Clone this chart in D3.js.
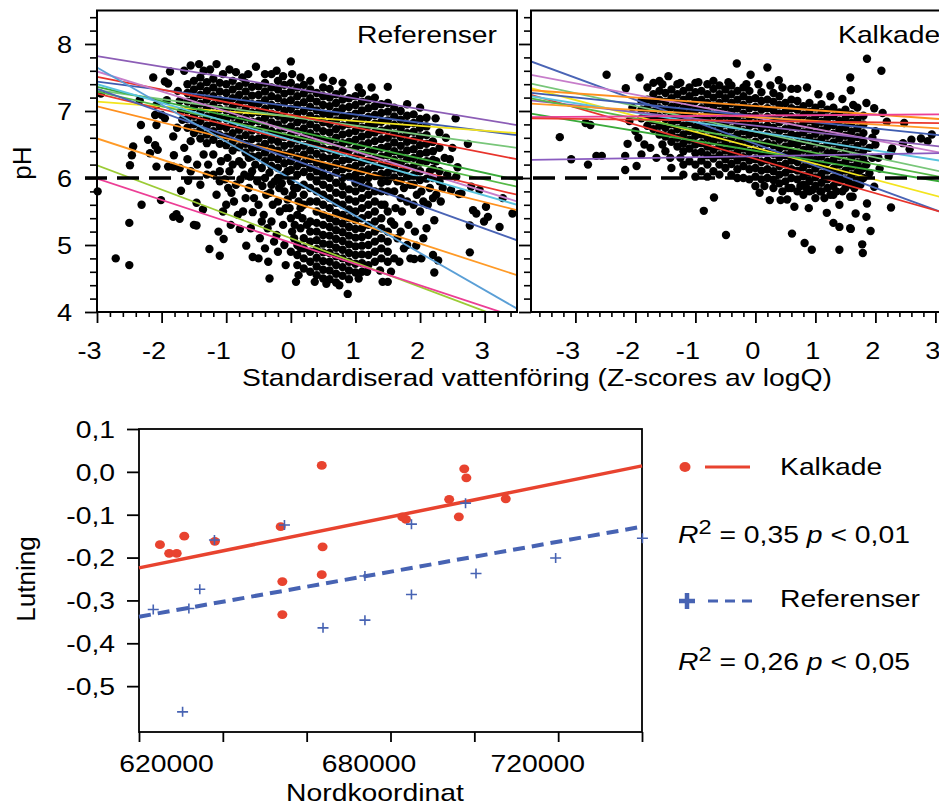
<!DOCTYPE html>
<html>
<head>
<meta charset="utf-8">
<script src="https://cdn.jsdelivr.net/npm/d3@7"></script>
<style>
  body { margin: 0; background: #fff; }
  svg { display: block; }
  text { font-family: "Liberation Sans", Arial, sans-serif; fill: #000; }
</style>
</head>
<body>
<div id="chart"></div>
<script>
// pH mot standardiserad vattenföring (två paneler) + lutning mot nordkoordinat

/* ---------- data: Referenser (övre vänstra panelen) ---------- */
// täta kolumner: [z-score, [pH ...]]
const refDense = [
  [-1.6, [7.4, 7.27, 7.14, 7.01, 6.88, 6.75]],
  [-1.5, [7.45, 7.32, 7.19, 7.06, 6.93, 6.8, 6.67]],
  [-1.4, [7.5, 7.37, 7.24, 7.11, 6.98, 6.85, 6.72, 6.59]],
  [-1.3, [7.43, 7.3, 7.17, 7.04, 6.91, 6.78, 6.65, 6.52]],
  [-1.2, [7.48, 7.35, 7.22, 7.09, 6.96, 6.83, 6.7, 6.57]],
  [-1.1, [7.42, 7.29, 7.16, 7.03, 6.9, 6.77, 6.64, 6.51]],
  [-1.0, [7.4, 7.27, 7.14, 7.01, 6.88, 6.75, 6.62, 6.49]],
  [-0.9, [7.45, 7.32, 7.19, 7.06, 6.93, 6.8, 6.67, 6.54, 6.41]],
  [-0.8, [7.37, 7.24, 7.11, 6.98, 6.85, 6.72, 6.59, 6.46]],
  [-0.7, [7.42, 7.29, 7.16, 7.03, 6.9, 6.77, 6.64, 6.51, 6.38]],
  [-0.6, [7.36, 7.23, 7.1, 6.97, 6.84, 6.71, 6.58, 6.45, 6.32]],
  [-0.5, [7.37, 7.24, 7.11, 6.98, 6.85, 6.72, 6.59, 6.46, 6.33]],
  [-0.4, [7.42, 7.29, 7.16, 7.03, 6.9, 6.77, 6.64, 6.51, 6.38, 6.25]],
  [-0.3, [7.35, 7.22, 7.09, 6.96, 6.83, 6.7, 6.57, 6.44, 6.31, 6.18]],
  [-0.2, [7.45, 7.32, 7.19, 7.06, 6.93, 6.8, 6.67, 6.54, 6.41, 6.28, 6.15]],
  [-0.1, [7.39, 7.26, 7.13, 7.0, 6.87, 6.74, 6.61, 6.48, 6.35, 6.22]],
  [0.0, [7.42, 7.29, 7.16, 7.03, 6.9, 6.77, 6.64, 6.51, 6.38, 6.25, 6.12]],
  [0.1, [7.35, 7.22, 7.09, 6.96, 6.83, 6.7, 6.57, 6.44, 6.31, 6.18, 6.05, 5.0, 4.85]],
  [0.2, [7.39, 7.26, 7.13, 7.0, 6.87, 6.74, 6.61, 6.48, 6.35, 6.22, 6.09, 5.9, 5.75, 5.6, 5.1, 4.95, 4.8, 4.65]],
  [0.3, [7.32, 7.19, 7.06, 6.93, 6.8, 6.67, 6.54, 6.41, 6.28, 6.15, 6.02, 5.85, 5.65, 5.35, 5.2, 5.05, 4.9, 4.75, 4.6]],
  [0.4, [7.27, 7.14, 7.01, 6.88, 6.75, 6.62, 6.49, 6.36, 6.23, 6.1, 5.95, 5.8, 5.65, 5.5, 5.33, 5.2, 5.07, 4.94, 4.81, 4.68, 4.55]],
  [0.5, [7.35, 7.22, 7.09, 6.96, 6.83, 6.7, 6.57, 6.44, 6.31, 6.18, 6.05, 5.9, 5.75, 5.6, 5.45, 5.3, 5.15, 5.02, 4.89, 4.76, 4.63, 4.5]],
  [0.6, [7.33, 7.2, 7.07, 6.94, 6.81, 6.68, 6.55, 6.42, 6.29, 6.16, 6.0, 5.85, 5.7, 5.55, 5.4, 5.27, 5.14, 5.01, 4.88, 4.75, 4.62, 4.49]],
  [0.7, [7.25, 7.12, 6.99, 6.86, 6.73, 6.6, 6.47, 6.34, 6.21, 6.08, 5.93, 5.78, 5.63, 5.48, 5.35, 5.22, 5.09, 4.96, 4.83, 4.7, 4.57, 4.44]],
  [0.8, [7.3, 7.17, 7.04, 6.91, 6.78, 6.65, 6.52, 6.39, 6.26, 6.13, 6.0, 5.88, 5.75, 5.6, 5.45, 5.32, 5.19, 5.06, 4.93, 4.8, 4.67, 4.54]],
  [0.9, [7.19, 7.06, 6.93, 6.8, 6.67, 6.54, 6.41, 6.28, 6.15, 6.02, 5.83, 5.68, 5.53, 5.4, 5.27, 5.14, 5.01, 4.88, 4.75, 4.62, 4.49]],
  [1.0, [7.22, 7.09, 6.96, 6.83, 6.7, 6.57, 6.44, 6.31, 6.18, 6.05, 5.93, 5.8, 5.65, 5.5, 5.37, 5.24, 5.11, 4.98, 4.85, 4.72, 4.59]],
  [1.1, [7.27, 7.14, 7.01, 6.88, 6.75, 6.62, 6.49, 6.36, 6.23, 6.1, 5.97, 5.85, 5.7, 5.55, 5.4, 5.25, 5.12, 4.99, 4.86, 4.73, 4.6]],
  [1.2, [7.17, 7.04, 6.91, 6.78, 6.65, 6.52, 6.39, 6.26, 6.13, 6.0, 5.88, 5.75, 5.6, 5.45, 5.3, 5.15, 5.0, 4.85, 4.7]],
  [1.3, [7.2, 7.07, 6.94, 6.81, 6.68, 6.55, 6.42, 6.29, 6.16, 6.03, 5.8, 5.65, 5.5, 5.35, 5.2, 5.05, 4.9, 4.75]],
  [1.4, [7.1, 6.97, 6.84, 6.71, 6.58, 6.45, 6.32, 6.19, 6.06, 5.93, 5.8, 5.6, 5.4, 5.25, 5.1, 4.95, 4.8]],
  [1.5, [7.12, 6.99, 6.86, 6.73, 6.6, 6.47, 6.34, 6.21, 6.08, 5.95, 5.8, 5.5, 5.2, 5.05, 4.9, 4.75]],
  [1.6, [7.05, 6.92, 6.79, 6.66, 6.53, 6.4, 6.27, 6.14, 6.01]],
  [1.7, [7.0, 6.87, 6.74, 6.61, 6.48, 6.35, 6.22, 6.09, 5.96]],
  [1.8, [6.93, 6.8, 6.67, 6.54, 6.41, 6.28, 6.15, 6.02]],
  [1.9, [6.95, 6.82, 6.69, 6.56, 6.43, 6.3, 6.17, 6.04]],
  [2.0, [6.88, 6.75, 6.62, 6.49, 6.36, 6.23, 6.1]],
  [2.1, [6.9, 6.77, 6.64, 6.51, 6.38, 6.25]],
  [2.2, [6.54, 6.4, 6.27, 6.14]]
];
// glesa punkter: [z-score, pH]
const refSparse = [
  [-2.99, 5.8], [-2.94, 7.26], [-2.71, 4.8], [-2.5, 4.7], [-2.5, 5.33], [-2.31, 5.6], [-2.01, 5.67], [-1.82, 5.42],
  [-2.13, 7.5], [-1.95, 7.44], [-1.87, 7.59], [-1.9, 7.41], [-2.34, 7.16], [-2.08, 7.09], [-1.92, 7.16], [-2.1, 6.94],
  [-2.0, 6.94], [-1.95, 6.89], [-2.32, 6.79], [-2.08, 6.79], [-1.82, 6.62], [-2.21, 6.57], [-2.1, 6.49], [-2.44, 6.47],
  [-2.46, 6.34], [-2.49, 6.19], [-2.18, 6.37], [-2.06, 6.42], [-1.81, 6.34], [-1.9, 6.17], [-2.08, 6.17], [-1.82, 6.17],
  [-1.75, 7.3], [-1.72, 7.15], [-1.7, 7.0], [-1.68, 6.87], [-1.76, 6.75], [-1.65, 7.6], [-1.55, 7.68], [-1.42, 7.7],
  [-1.72, 6.15], [-1.7, 5.81], [-1.77, 5.46], [-1.72, 5.39], [-1.65, 6.45], [-1.6, 6.28], [-1.59, 5.96], [-1.55, 6.1],
  [-1.46, 5.63], [-1.5, 5.3], [-1.46, 5.29], [-1.36, 5.53], [-1.26, 4.94], [-1.35, 6.35], [-1.28, 6.2], [-1.4, 5.9],
  [-1.25, 7.62], [-1.15, 7.7], [-1.2, 6.05], [-1.15, 5.75], [-1.08, 6.25], [-1.1, 5.95], [-1.05, 5.5], [-1.12, 5.2],
  [-1.1, 4.84], [-1.04, 5.09], [-0.98, 6.3], [-0.95, 6.1], [-0.97, 5.85], [-1.0, 5.6], [-0.93, 5.3], [-0.9, 6.2],
  [-0.85, 5.9], [-0.88, 5.65], [-0.79, 5.24], [-0.82, 5.45], [-0.75, 6.2], [-0.72, 6.05], [-0.7, 5.7], [-0.74, 5.5],
  [-0.69, 4.99], [-0.65, 5.85], [-0.6, 6.1], [-0.59, 5.49], [-0.62, 5.25], [-0.59, 4.82], [-0.54, 7.66], [-0.55, 6.2],
  [-0.52, 5.95], [-0.5, 5.6], [-0.48, 5.1], [-0.5, 4.8], [-0.45, 5.35], [-0.66, 7.55], [-0.85, 7.58],
  [-0.4, 7.55], [-0.4, 6.0], [-0.38, 5.75], [-0.42, 5.45], [-0.36, 5.25], [-0.4, 4.95], [-0.33, 4.5], [-0.35, 4.75],
  [-0.3, 5.9], [-0.28, 5.6], [-0.3, 5.35], [-0.26, 5.05], [-0.22, 7.6], [-0.2, 6.0], [-0.18, 5.85], [-0.2, 5.65],
  [-0.17, 5.5], [-0.22, 5.15], [-0.2, 4.9], [-0.12, 7.52], [-0.1, 6.05], [-0.1, 5.8], [-0.08, 5.55], [-0.12, 5.3],
  [-0.1, 5.0], [-0.08, 4.7], [0.0, 7.74], [0.02, 7.55], [0.0, 5.95], [0.03, 5.75], [-0.02, 5.55], [0.0, 5.4],
  [0.02, 5.2], [0.0, 4.9], [0.08, 4.45],
  [-1.55, 6.55], [-1.45, 6.2], [-1.3, 6.05], [-1.2, 6.35], [-1.1, 6.1], [-1.02, 5.98], [-0.92, 5.78], [-0.8, 6.25],
  [-0.78, 5.98], [-0.65, 6.3], [-0.63, 6.02], [-0.57, 5.7], [-0.45, 6.15], [-0.44, 5.88], [-0.33, 6.08], [-0.32, 5.78],
  [-0.25, 5.95], [-0.14, 5.92], [-0.05, 6.1], [-0.05, 5.68], [0.05, 5.85], [0.06, 5.3], [0.05, 5.1], [0.15, 5.55],
  [0.18, 5.4], [0.15, 4.95], [-1.35, 7.6], [-1.05, 7.55], [-0.95, 7.62], [-0.75, 7.5], [-0.3, 7.55], [0.15, 7.5],
  [0.3, 7.45], [0.65, 7.45], [0.8, 7.42], [1.05, 7.35], [1.25, 7.35],
  [0.1, 5.85], [0.12, 5.65], [0.1, 5.45], [0.15, 5.25], [0.1, 4.7], [0.12, 4.55], [0.25, 5.3], [0.37, 4.45],
  [0.5, 7.5], [0.88, 4.27], [0.75, 4.4], [0.55, 4.42], [1.05, 4.5], [1.18, 4.6], [1.42, 4.45], [1.38, 4.62],
  [1.5, 7.36], [1.55, 4.6], [1.5, 4.45], [1.45, 5.6], [1.55, 5.35],
  [1.6, 5.8], [1.62, 5.55], [1.6, 5.3], [1.65, 5.1], [1.6, 4.8], [1.7, 5.7], [1.72, 5.5], [1.7, 5.2],
  [1.75, 4.95], [1.68, 4.75], [1.8, 7.1], [1.8, 5.65], [1.82, 5.3], [1.8, 5.0], [1.85, 4.8], [1.9, 5.9],
  [1.9, 5.6], [1.92, 5.2], [1.94, 4.99], [1.91, 4.79], [2.0, 7.05], [2.0, 5.97], [2.02, 5.8], [2.0, 5.5],
  [2.05, 5.1], [2.02, 4.8], [2.1, 5.99], [2.12, 5.6], [2.1, 5.25], [2.19, 6.54], [2.24, 6.89], [2.2, 6.0],
  [2.2, 5.7], [2.22, 5.37], [2.22, 4.59], [2.2, 4.85], [2.28, 4.77], [2.3, 6.68], [2.3, 6.1], [2.3, 5.95],
  [1.65, 5.95], [1.75, 5.85], [1.85, 5.9], [1.95, 5.75], [2.05, 5.65], [2.15, 5.85], [2.25, 5.75], [2.35, 5.85],
  [2.38, 6.3], [2.3, 6.45], [2.15, 6.1], [2.25, 6.25],
  [2.32, 5.65], [2.46, 6.28], [2.4, 6.6], [2.42, 6.05], [2.48, 5.82], [2.55, 6.89], [2.58, 6.16], [2.56, 6.02],
  [2.5, 6.45], [2.64, 5.77], [2.74, 6.51], [2.79, 5.87], [2.92, 5.82], [2.82, 5.52], [2.87, 5.47], [3.02, 5.57],
  [3.05, 5.42], [2.99, 5.35], [3.28, 5.7], [3.23, 5.27], [3.43, 5.47], [2.77, 5.29], [2.77, 4.89], [2.6, 5.76]
];
// regressionslinjer, pH vid z = -3 och z = 3,5
const refLineStart = [7.82, 7.44, 7.14, 7.31, 7.51, 7.36, 7.29, 7.26, 7.59, 7.40, 7.07, 7.33, 6.59, 7.65, 6.19, 5.99];
const refLineEnd   = [6.79, 6.64, 6.67, 6.45, 6.28, 5.97, 5.87, 5.75, 5.65, 5.60, 5.52, 5.07, 4.55, 4.05, 3.83, 3.92];
const refLineZ = [-3, 3.5];

/* ---------- data: Kalkade (övre högra panelen) ---------- */
const kalkDense = [
  [-1.9, [7.15, 7.02, 6.89]],
  [-1.8, [7.17, 7.04, 6.91, 6.78]],
  [-1.7, [7.25, 7.12, 6.99, 6.86, 6.73]],
  [-1.6, [7.3, 7.17, 7.04, 6.91, 6.78, 6.65]],
  [-1.5, [7.27, 7.14, 7.01, 6.88, 6.75, 6.62]],
  [-1.4, [7.32, 7.19, 7.06, 6.93, 6.8, 6.67, 6.54]],
  [-1.3, [7.25, 7.12, 6.99, 6.86, 6.73, 6.6, 6.47]],
  [-1.2, [7.3, 7.17, 7.04, 6.91, 6.78, 6.65, 6.52, 6.4]],
  [-1.1, [7.35, 7.22, 7.09, 6.96, 6.83, 6.7, 6.57, 6.44]],
  [-1.0, [7.28, 7.15, 7.02, 6.89, 6.76, 6.63, 6.5, 6.37]],
  [-0.9, [7.3, 7.17, 7.04, 6.91, 6.78, 6.65, 6.52, 6.39, 6.26]],
  [-0.8, [7.25, 7.12, 6.99, 6.86, 6.73, 6.6, 6.47, 6.34]],
  [-0.7, [7.33, 7.2, 7.07, 6.94, 6.81, 6.68, 6.55, 6.42, 6.29]],
  [-0.6, [7.25, 7.12, 6.99, 6.86, 6.73, 6.6, 6.47, 6.34, 6.2]],
  [-0.5, [7.32, 7.19, 7.06, 6.93, 6.8, 6.67, 6.54, 6.41, 6.28]],
  [-0.4, [7.25, 7.12, 6.99, 6.86, 6.73, 6.6, 6.47, 6.34, 6.21]],
  [-0.3, [7.3, 7.17, 7.04, 6.91, 6.78, 6.65, 6.52, 6.39, 6.26, 6.13]],
  [-0.2, [7.22, 7.09, 6.96, 6.83, 6.7, 6.57, 6.44, 6.31, 6.18]],
  [-0.1, [7.3, 7.17, 7.04, 6.91, 6.78, 6.65, 6.52, 6.39, 6.26, 6.13]],
  [0.0, [7.19, 7.06, 6.93, 6.8, 6.67, 6.54, 6.41, 6.28, 6.15]],
  [0.1, [7.28, 7.15, 7.02, 6.89, 6.76, 6.63, 6.5, 6.37, 6.24, 6.11]],
  [0.2, [7.17, 7.04, 6.91, 6.78, 6.65, 6.52, 6.39, 6.26, 6.13]],
  [0.3, [7.27, 7.14, 7.01, 6.88, 6.75, 6.62, 6.49, 6.36, 6.23, 6.1]],
  [0.4, [7.22, 7.09, 6.96, 6.83, 6.7, 6.57, 6.44, 6.31, 6.18, 6.05]],
  [0.5, [7.12, 6.99, 6.86, 6.73, 6.6, 6.47, 6.34, 6.21, 6.08]],
  [0.6, [7.17, 7.04, 6.91, 6.78, 6.65, 6.52, 6.39, 6.26, 6.13, 6.0]],
  [0.7, [7.15, 7.02, 6.89, 6.76, 6.63, 6.5, 6.37, 6.24, 6.11, 5.98]],
  [0.8, [7.07, 6.94, 6.81, 6.68, 6.55, 6.42, 6.29, 6.16, 6.03]],
  [0.9, [7.12, 6.99, 6.86, 6.73, 6.6, 6.47, 6.34, 6.21, 6.08, 5.95]],
  [1.0, [7.05, 6.92, 6.79, 6.66, 6.53, 6.4, 6.27, 6.14, 6.01]],
  [1.1, [7.1, 6.97, 6.84, 6.71, 6.58, 6.45, 6.32, 6.19, 6.06, 5.93]],
  [1.2, [7.02, 6.89, 6.76, 6.63, 6.5, 6.37, 6.24, 6.11, 5.98]],
  [1.3, [7.05, 6.92, 6.79, 6.66, 6.53, 6.4, 6.27, 6.14, 6.01, 5.88]],
  [1.4, [6.98, 6.85, 6.72, 6.59, 6.46, 6.33, 6.2, 6.07, 5.94]],
  [1.5, [7.02, 6.89, 6.76, 6.63, 6.5, 6.37, 6.24, 6.11, 5.98]],
  [1.6, [6.95, 6.82, 6.69, 6.56, 6.43, 6.3, 6.17, 6.04]],
  [1.7, [6.87, 6.74, 6.61, 6.48, 6.35, 6.22, 6.09]],
  [1.8, [6.93, 6.8, 6.67, 6.54, 6.41, 6.28]]
];
const kalkSparse = [
  [-3.26, 6.61], [-3.07, 6.28], [-2.83, 6.82], [-2.75, 6.79], [-2.79, 6.2], [-2.65, 6.33], [-2.56, 6.33], [-2.48, 7.54],
  [-2.16, 7.34], [-2.17, 6.33], [-2.17, 6.12], [-2.13, 6.51], [-1.98, 6.18], [-1.93, 7.5], [-2.05, 7.05], [-2.1, 6.85],
  [-2.0, 6.7], [-1.95, 6.6], [-1.9, 6.35], [-1.85, 6.5], [-1.8, 7.35], [-1.7, 7.42], [-1.75, 6.45], [-1.65, 6.3],
  [-1.6, 7.45], [-1.55, 6.5], [-1.5, 6.4], [-1.45, 7.52], [-1.42, 6.3], [-1.4, 6.15], [-1.3, 7.4], [-1.25, 6.3],
  [-1.2, 6.2], [-1.2, 6.05], [-1.1, 6.25], [-1.0, 7.42], [-1.0, 6.2], [-1.0, 6.02], [-0.9, 6.1], [-0.86, 5.51],
  [-0.8, 7.4], [-0.8, 6.2], [-0.8, 6.02], [-0.7, 6.1], [-0.69, 5.71], [-0.6, 7.38], [-0.6, 6.05], [-0.5, 6.15],
  [-0.49, 5.15], [-0.4, 7.38], [-0.4, 6.05], [-0.31, 7.71], [-0.2, 7.35], [-0.2, 6.0], [-0.08, 7.54], [0.0, 6.02],
  [0.0, 5.88], [0.07, 5.78], [0.1, 5.98], [0.2, 7.65], [0.2, 6.0], [0.24, 5.67], [0.3, 5.97], [0.3, 5.85],
  [0.39, 7.46], [0.4, 5.92], [0.42, 5.67], [0.53, 5.68], [0.5, 5.95], [0.6, 5.85], [0.61, 5.17], [0.65, 5.57],
  [0.7, 7.33], [0.7, 5.8], [0.8, 5.9], [0.82, 5.03], [0.8, 5.75], [0.86, 7.35], [0.89, 5.55], [0.9, 5.8],
  [0.94, 4.93], [1.0, 5.88], [1.0, 5.7], [1.08, 5.8], [1.1, 5.8], [1.19, 5.48], [1.2, 5.85], [1.3, 5.33],
  [1.3, 5.75], [1.4, 5.27], [1.4, 4.93], [1.4, 5.6], [1.5, 5.85], [1.58, 5.25], [1.58, 7.5], [1.59, 7.31],
  [1.58, 5.72], [1.6, 5.9], [1.62, 5.72], [1.63, 7.09], [1.67, 5.47], [1.7, 5.96], [1.78, 5.01], [1.79, 4.88],
  [1.8, 6.15], [1.8, 6.0], [1.85, 7.12], [1.85, 5.42], [1.86, 7.78], [1.86, 5.62], [1.9, 6.07], [1.92, 5.21],
  [1.98, 7.04], [1.98, 5.87], [2.0, 6.7], [2.0, 6.5], [2.05, 6.3], [2.07, 6.14], [2.1, 7.6], [2.12, 6.97],
  [2.19, 6.84], [2.22, 6.32], [2.26, 6.39], [2.26, 5.56], [2.28, 6.44], [2.46, 6.52], [2.48, 6.82], [2.57, 6.43],
  [2.6, 6.57], [2.76, 6.59], [2.87, 6.55], [2.94, 6.65], [1.59, 5.24],
  [-1.55, 7.4], [-1.25, 7.42], [-0.95, 7.43], [-0.7, 7.45], [-0.45, 7.43], [-0.15, 7.4], [0.05, 7.4], [0.25, 7.38],
  [0.45, 7.35], [0.6, 7.33], [1.05, 7.25], [1.25, 7.22], [1.45, 7.18], [1.7, 7.05],
  [-0.3, 6.0], [-0.1, 5.98], [0.15, 5.88], [0.45, 5.8], [0.55, 5.85], [0.75, 5.88], [0.85, 5.85], [0.95, 5.82],
  [1.15, 5.7], [1.25, 5.75], [1.35, 5.8], [1.45, 5.8], [1.55, 5.95], [1.65, 5.85], [1.75, 5.9], [1.85, 6.2],
  [1.95, 6.3], [1.75, 6.12], [1.9, 6.45], [1.95, 6.6]
];
// regressionslinjer, pH vid panelens vänsterkant (z = -3,74) och vid bildkanten (z = 3,07)
const kalkLineStart = [7.74, 7.54, 7.41, 7.34, 7.31, 7.27, 7.24, 7.22, 7.16, 7.19, 7.11, 6.96, 6.91, 6.89, 6.27];
const kalkLineEnd   = [5.50, 6.38, 6.10, 5.72, 6.88, 6.64, 5.50, 6.26, 6.47, 6.02, 6.74, 5.95, 6.95, 6.82, 6.37];
const kalkLineZ = [-3.74, 3.07];

const zTicks  = d3.range(-3, 4);
const phTicks = [4, 5, 6, 7, 8];
const phLimit = 6;

/* ---------- data: lutning mot nordkoordinat ---------- */
const kalkNord  = [625000, 627200, 629000, 630800, 638100, 653800, 663600, 663800, 663600, 654200, 654200, 682800, 683700, 694000, 696300, 697600, 698100, 707500];
const kalkSlope = [-0.170, -0.190, -0.190, -0.150, -0.162, -0.128, 0.015, -0.175, -0.240, -0.256, -0.333, -0.105, -0.111, -0.064, -0.105, 0.007, -0.014, -0.063];
const refNord   = [623400, 630400, 631900, 634500, 638000, 654700, 663900, 673900, 673900, 685000, 685000, 697900, 700400, 719400, 740100];
const refSlope  = [-0.321, -0.560, -0.319, -0.274, -0.159, -0.124, -0.364, -0.243, -0.346, -0.122, -0.286, -0.073, -0.237, -0.201, -0.155];
const kalkFit = [[620000, -0.224], [740000, 0.014]];
const refFit  = [[620000, -0.338], [740000, -0.128]];
const nordTicks  = d3.range(620000, 740001, 20000);
const nordLabels = [620000, 680000, 720000];
const slopeTicks = [0.1, 0, -0.1, -0.2, -0.3, -0.4, -0.5];

/* ---------- styles ---------- */
const refColors  = ["#8c5db6", "#3f5cb0", "#f3e41e", "#78c679", "#e8332b", "#3aaa3a", "#55b947", "#ea3a2f",
                    "#c77dca", "#5ac4de", "#ff901e", "#4a64b5", "#ff9a26", "#5a9fd6", "#9bcb35", "#ec3e95"];
const kalkColors = ["#4a64b5", "#c77dca", "#78c679", "#f3e41e", "#ff901e", "#3f5cb0", "#e8332b", "#5ac4de",
                    "#8c5db6", "#55b947", "#ff9a26", "#3aaa3a", "#ec3e95", "#ea3a2f", "#8a5cc0"];
const RED = "#e8432f", BLUE = "#4763b3";
const SX = 1.18;          // originalet är horisontellt utdraget
const FONT_TICK = 23, FONT_TITLE = 24;
const DOT_R = 4.2;

/* ---------- helpers ---------- */
const hy = v => (v < 0 ? "-" : "") + Math.abs(v);
const comma1 = v => (v < -1e-9 ? "-" : "") + Math.abs(v).toFixed(1).replace(".", ",");
const expand = cols => cols.flatMap(([z, ys]) => ys.map(p => [z, p]));

function stext(g, x, y, str, size, anchor){
  return g.append("text")
    .attr("transform", `translate(${x},${y}) scale(${SX},1)`)
    .attr("text-anchor", anchor || "start")
    .attr("font-size", size)
    .text(str);
}

const W = 939, H = 805;
const svg = d3.select("#chart").append("svg").attr("width", W).attr("height", H);

/* ---------- top panels ---------- */
const yPH = d3.scaleLinear().domain([4, 8.5]).range([312, 10.5]);
const xL  = d3.scaleLinear().domain([-3, 3.5]).range([97, 517]);
const xR  = d3.scaleLinear().domain([-3.74, 3.5]).range([531, 531 + 7.24 * 60]);

function panel(x, dense, sparse, starts, ends, lineZ, colors, id, withLabels){
  const g = svg.append("g");
  const [x0, x1] = x.range();
  const [yb, yt] = yPH.range();

  g.append("clipPath").attr("id", id).append("rect")
    .attr("x", x0).attr("y", yt).attr("width", x1 - x0).attr("height", yb - yt);

  // punkter
  const pts = expand(dense).concat(sparse);
  g.append("g").selectAll("circle").data(pts).join("circle")
    .attr("cx", d => x(d[0])).attr("cy", d => yPH(d[1]))
    .attr("r", DOT_R).attr("fill", "#000");

  // linjer
  g.append("g").attr("clip-path", `url(#${id})`)
    .selectAll("line").data(starts.map((s, i) => ({ s, e: ends[i], c: colors[i] }))).join("line")
    .attr("x1", x(lineZ[0])).attr("x2", x(lineZ[1]))
    .attr("y1", d => yPH(d.s)).attr("y2", d => yPH(d.e))
    .attr("stroke", d => d.c).attr("stroke-width", 1.8);

  // ram
  g.append("rect").attr("x", x0).attr("y", yt).attr("width", x1 - x0).attr("height", yb - yt)
    .attr("fill", "none").attr("stroke", "#000").attr("stroke-width", 2);

  // y-axel
  const minorPH = d3.range(4, 8.41, 0.2).filter(v => Math.abs(v - Math.round(v)) > 1e-6);
  g.append("g").attr("transform", `translate(${x0},0)`)
    .call(d3.axisLeft(yPH).tickValues(minorPH).tickSize(7).tickFormat(""))
    .call(a => a.select(".domain").remove())
    .selectAll("line").attr("stroke-width", 1.6);
  const ya = g.append("g").attr("transform", `translate(${x0},0)`)
    .call(d3.axisLeft(yPH).tickValues(phTicks).tickSize(12).tickFormat(withLabels ? d => d : ""))
    .call(a => a.select(".domain").remove());
  ya.selectAll("line").attr("stroke-width", 1.8);
  ya.selectAll("text").attr("x", null).attr("dy", "0.35em")
    .attr("font-size", FONT_TICK).attr("font-family", null)
    .attr("transform", `translate(-25,0) scale(${SX},1)`);

  // x-axel
  const [d0, d1] = x.domain();
  const minorZ = d3.range(Math.ceil(d0 * 5) / 5, d1 + 1e-6, 0.2)
    .filter(v => Math.abs(v - Math.round(v)) > 1e-6);
  g.append("g").attr("transform", `translate(0,${yb})`)
    .call(d3.axisBottom(x).tickValues(minorZ).tickSize(5).tickFormat(""))
    .call(a => a.select(".domain").remove())
    .selectAll("line").attr("stroke-width", 1.6);
  const xa = g.append("g").attr("transform", `translate(0,${yb})`)
    .call(d3.axisBottom(x).tickValues(zTicks).tickSize(11).tickFormat(hy))
    .call(a => a.select(".domain").remove());
  xa.selectAll("line").attr("stroke-width", 1.8);
  xa.selectAll("text").attr("y", null).attr("dy", null)
    .attr("font-size", FONT_TICK).attr("font-family", null)
    .attr("transform", d => `translate(${d < 0 ? -8 : -3},47) scale(${SX},1)`);
  return g;
}

panel(xL, refDense, refSparse, refLineStart, refLineEnd, refLineZ, refColors, "clipL", true);
panel(xR, kalkDense, kalkSparse, kalkLineStart, kalkLineEnd, kalkLineZ, kalkColors, "clipR", false);

// pH 6-gräns
svg.append("line")
  .attr("x1", 85).attr("x2", W)
  .attr("y1", yPH(phLimit)).attr("y2", yPH(phLimit))
  .attr("stroke", "#000").attr("stroke-width", 3.5).attr("stroke-dasharray", "22,10");

stext(svg, 497, 43, "Referenser", FONT_TITLE, "end");
stext(svg, 838, 43, "Kalkade", FONT_TITLE, "start");
svg.append("text").attr("transform", "translate(31,163) rotate(-90)")
  .attr("text-anchor", "middle").attr("font-size", 26).text("pH");
stext(svg, 537, 386, "Standardiserad vattenföring (Z-scores av logQ)", FONT_TITLE, "middle");

/* ---------- bottom panel ---------- */
const xN = d3.scaleLinear().domain([620000, 740000]).range([139, 642]);
const yS = d3.scaleLinear().domain([-0.607, 0.1]).range([732, 429]);
const gb = svg.append("g");

gb.append("rect").attr("x", 139).attr("y", 429).attr("width", 503).attr("height", 303)
  .attr("fill", "none").attr("stroke", "#000").attr("stroke-width", 1.8);

const yb = gb.append("g").attr("transform", "translate(139,0)")
  .call(d3.axisLeft(yS).tickValues(slopeTicks).tickSize(12).tickFormat(comma1))
  .call(a => a.select(".domain").remove());
yb.selectAll("line").attr("stroke-width", 1.8);
yb.selectAll("text").attr("x", null).attr("dy", "0.35em")
  .attr("font-size", 24).attr("font-family", null)
  .attr("transform", `translate(-24,0) scale(${SX},1)`);

const labelShift = { 620000: 27, 680000: -22, 720000: -21 };
const xb = gb.append("g").attr("transform", "translate(0,732)")
  .call(d3.axisBottom(xN).tickValues(nordTicks).tickSize(10)
    .tickFormat(d => nordLabels.includes(d) ? String(d) : ""))
  .call(a => a.select(".domain").remove());
xb.selectAll("line").attr("stroke-width", 1.8);
xb.selectAll("text").attr("y", null).attr("dy", null)
  .attr("font-size", FONT_TITLE).attr("font-family", null)
  .attr("transform", d => `translate(${labelShift[d] || 0},40) scale(${SX},1)`);

// regressionslinjer
const fitLine = d3.line().x(d => xN(d[0])).y(d => yS(d[1]));
gb.append("path").datum(kalkFit).attr("d", fitLine)
  .attr("stroke", RED).attr("stroke-width", 3.5).attr("fill", "none");
gb.append("path").datum(refFit).attr("d", fitLine)
  .attr("stroke", BLUE).attr("stroke-width", 4).attr("fill", "none").attr("stroke-dasharray", "12,7");

// punkter
gb.append("g").selectAll("ellipse").data(kalkNord.map((n, i) => [n, kalkSlope[i]])).join("ellipse")
  .attr("cx", d => xN(d[0])).attr("cy", d => yS(d[1]))
  .attr("rx", 5).attr("ry", 4.4).attr("fill", RED);
gb.append("g").selectAll("path.plus").data(refNord.map((n, i) => [n, refSlope[i]])).join("path")
  .attr("class", "plus")
  .attr("d", d => { const cx = xN(d[0]), cy = yS(d[1]);
    return `M${cx - 5.5},${cy}H${cx + 5.5}M${cx},${cy - 5}V${cy + 5}`; })
  .attr("stroke", BLUE).attr("stroke-width", 1.6).attr("fill", "none");

stext(svg, 375, 801, "Nordkoordinat", FONT_TITLE, "middle");
svg.append("text").attr("transform", "translate(35,579) rotate(-90)")
  .attr("text-anchor", "middle").attr("font-size", 26).text("Lutning");

/* ---------- legend ---------- */
const lg = svg.append("g");
lg.append("ellipse").attr("cx", 685).attr("cy", 467).attr("rx", 5.5).attr("ry", 5).attr("fill", RED);
lg.append("line").attr("x1", 705).attr("x2", 750).attr("y1", 467).attr("y2", 467)
  .attr("stroke", RED).attr("stroke-width", 3);
stext(lg, 780, 475, "Kalkade", FONT_TITLE);

lg.append("path").attr("d", "M679,601H695M687,593V609").attr("stroke", BLUE).attr("stroke-width", 4.5);
lg.append("line").attr("x1", 708).attr("x2", 755).attr("y1", 601).attr("y2", 601)
  .attr("stroke", BLUE).attr("stroke-width", 3).attr("stroke-dasharray", "10,7");
stext(lg, 780, 607, "Referenser", FONT_TITLE);

function r2(y, r2txt, ptxt){
  const t = lg.append("text").attr("transform", `translate(678,${y}) scale(${SX},1)`)
    .attr("font-size", FONT_TITLE);
  t.append("tspan").attr("font-style", "italic").text("R");
  t.append("tspan").attr("dy", -9).attr("font-size", 20).text("2");
  t.append("tspan").attr("dy", 9).text(` = ${r2txt} `);
  t.append("tspan").attr("font-style", "italic").text("p");
  t.append("tspan").text(` < ${ptxt}`);
}
r2(543, "0,35", "0,01");
r2(670, "0,26", "0,05");
</script>
</body>
</html>
